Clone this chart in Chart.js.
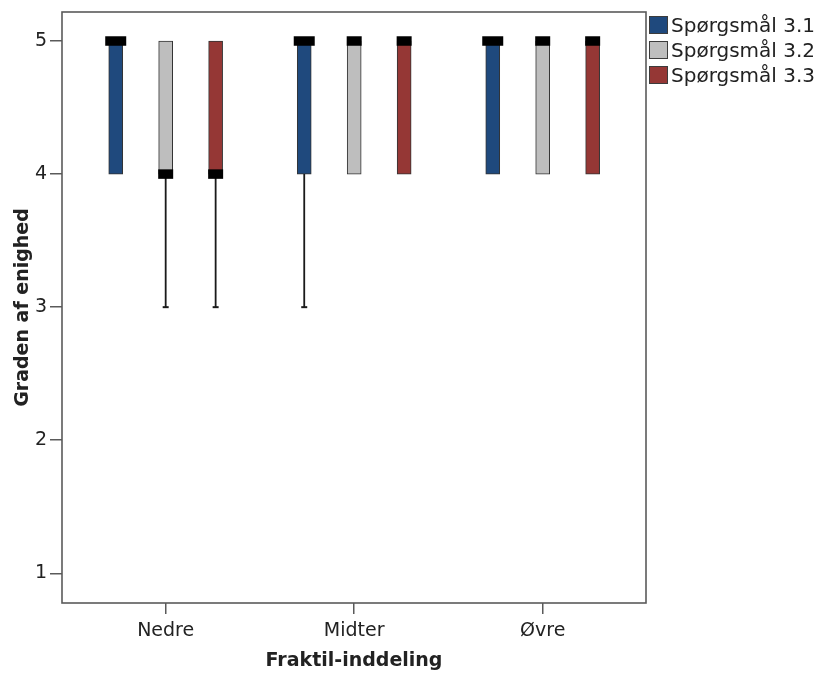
<!DOCTYPE html>
<html>
<head>
<meta charset="utf-8">
<script src="https://cdn.jsdelivr.net/npm/chart.js@4.4.1/dist/chart.umd.min.js"></script>
<style>
  html, body { margin: 0; padding: 0; background: #fff; }
  #wrap { position: relative; width: 823px; height: 675px; }
  #c { position: absolute; left: 0; top: 0; }
  #legend { position: absolute; left: 649px; top: 12px; font-family: "DejaVu Sans", sans-serif; font-size: 20px; color: #222; }
  .row { display: flex; align-items: center; height: 25px; white-space: nowrap; }
  .sw { width: 19px; height: 18px; box-sizing: border-box; border: 1px solid #3c3c3c; margin-right: 3px; }
</style>
</head>
<body>
<div id="wrap">
  <canvas id="c" width="823" height="675"></canvas>
  <div id="legend"></div>
</div>
<script>
// Groups on the x axis and the three questions
const categories = ['Nedre', 'Midter', 'Øvre'];
const seriesNames = ['Spørgsmål 3.1', 'Spørgsmål 3.2', 'Spørgsmål 3.3'];
const yTicks = [1, 2, 3, 4, 5];

// Five-number summary per question, one entry per group (Nedre, Midter, Øvre)
const q31Min    = [4, 3, 4];
const q31Q1     = [4, 4, 4];
const q31Median = [5, 5, 5];
const q31Q3     = [5, 5, 5];
const q31Max    = [5, 5, 5];

const q32Min    = [3, 4, 4];
const q32Q1     = [4, 4, 4];
const q32Median = [4, 5, 5];
const q32Q3     = [5, 5, 5];
const q32Max    = [5, 5, 5];

const q33Min    = [3, 4, 4];
const q33Q1     = [4, 4, 4];
const q33Median = [4, 5, 5];
const q33Q3     = [5, 5, 5];
const q33Max    = [5, 5, 5];

// Appearance
const seriesColors = ['#1f497d', '#bebebe', '#953735'];
const boxOffsets = [-0.265, 0, 0.265];      // position of each question inside a group
const medianHalfWidth = [10.5, 7.5, 7.5];     // px

const summaries = [
  { min: q31Min, q1: q31Q1, med: q31Median, q3: q31Q3, max: q31Max },
  { min: q32Min, q1: q32Q1, med: q32Median, q3: q32Q3, max: q32Max },
  { min: q33Min, q1: q33Q1, med: q33Median, q3: q33Q3, max: q33Max }
];

const datasets = [];
summaries.forEach((s, si) => {
  const xs = categories.map((_, ci) => ci + boxOffsets[si]);

  // box from Q1 to Q3
  datasets.push({
    type: 'bar',
    label: seriesNames[si],
    data: xs.map((x, ci) => ({ x: x, y: [s.q1[ci], s.q3[ci]] })),
    backgroundColor: seriesColors[si],
    borderColor: '#333',
    borderWidth: 1,
    borderSkipped: false,
    barThickness: 14,
    grouped: false,
    order: 3
  });

  // whiskers (min..Q1 and Q3..max), gaps between segments
  const wData = [];
  const capData = [];
  xs.forEach((x, ci) => {
    if (s.min[ci] < s.q1[ci]) {
      wData.push({ x: x, y: s.q1[ci] }, { x: x, y: s.min[ci] }, { x: x, y: null });
      capData.push({ x: x, y: s.min[ci] });
    }
    if (s.max[ci] > s.q3[ci]) {
      wData.push({ x: x, y: s.q3[ci] }, { x: x, y: s.max[ci] }, { x: x, y: null });
      capData.push({ x: x, y: s.max[ci] });
    }
  });
  datasets.push({
    type: 'line',
    label: seriesNames[si] + ' whisker',
    data: wData,
    borderColor: '#1a1a1a',
    borderWidth: 1.8,
    pointRadius: 0,
    spanGaps: false,
    fill: false,
    order: 2
  });
  datasets.push({
    type: 'scatter',
    label: seriesNames[si] + ' cap',
    data: capData,
    pointStyle: 'line',
    pointRadius: 3,
    pointBorderWidth: 2,
    pointBorderColor: '#1a1a1a',
    order: 1
  });

  // median marker
  datasets.push({
    type: 'scatter',
    label: seriesNames[si] + ' median',
    data: xs.map((x, ci) => ({ x: x, y: s.med[ci] })),
    pointStyle: 'line',
    pointRadius: medianHalfWidth[si],
    pointBorderWidth: 9.5,
    pointBorderColor: '#000',
    order: 0
  });
});

// plot frame around the chart area
const framePlugin = {
  id: 'frame',
  afterDraw(chart) {
    const { ctx, chartArea: a } = chart;
    ctx.save();
    ctx.strokeStyle = '#5a5a5a';
    ctx.lineWidth = 1.6;
    ctx.strokeRect(a.left, a.top, a.right - a.left, a.bottom - a.top);
    ctx.restore();
  }
};

const textColor = '#222';
const font = { family: 'DejaVu Sans', size: 19 };

new Chart(document.getElementById('c'), {
  type: 'bar',
  data: { datasets },
  plugins: [framePlugin],
  options: {
    responsive: false,
    animation: false,
    events: [],
    devicePixelRatio: 1,
    layout: { autoPadding: false, padding: { left: 0, top: 12, right: 177, bottom: 0 } },
    plugins: { legend: { display: false }, tooltip: { enabled: false } },
    scales: {
      x: {
        type: 'linear',
        offset: false,
        min: -0.55,
        max: 2.548,
        afterFit(scale) { scale.height = 72; scale.paddingLeft = 0; scale.paddingRight = 0; },
        afterBuildTicks(scale) { scale.ticks = categories.map((_, i) => ({ value: i })); },
        ticks: {
          callback: (v) => categories[v],
          font, color: textColor, padding: 6, maxRotation: 0
        },
        grid: { offset: false, drawOnChartArea: false, drawTicks: true, tickLength: 11, color: '#5a5a5a', lineWidth: 1.5 },
        border: { display: false },
        title: {
          display: true, text: 'Fraktil-inddeling', color: textColor,
          font: { family: 'DejaVu Sans', size: 19, weight: 'bold' },
          padding: { top: 0, bottom: 3 }
        }
      },
      y: {
        type: 'linear',
        min: 0.777,
        max: 5.218,
        afterFit(scale) { scale.width = 62; scale.paddingTop = 0; scale.paddingBottom = 0; },
        afterBuildTicks(scale) { scale.ticks = yTicks.map(v => ({ value: v })); },
        ticks: { font, color: textColor, padding: 3 },
        grid: { drawOnChartArea: false, drawTicks: true, tickLength: 12, color: '#5a5a5a', lineWidth: 1.5 },
        border: { display: false },
        title: {
          display: true, text: 'Graden af enighed', color: textColor,
          font: { family: 'DejaVu Sans', size: 19, weight: 'bold' },
          padding: { top: 12, bottom: 0 }
        }
      }
    }
  }
});

// legend
const legend = document.getElementById('legend');
seriesNames.forEach((name, i) => {
  const row = document.createElement('div');
  row.className = 'row';
  const sw = document.createElement('span');
  sw.className = 'sw';
  sw.style.background = seriesColors[i];
  const label = document.createElement('span');
  label.textContent = name;
  row.appendChild(sw);
  row.appendChild(label);
  legend.appendChild(row);
});
</script>
</body>
</html>
